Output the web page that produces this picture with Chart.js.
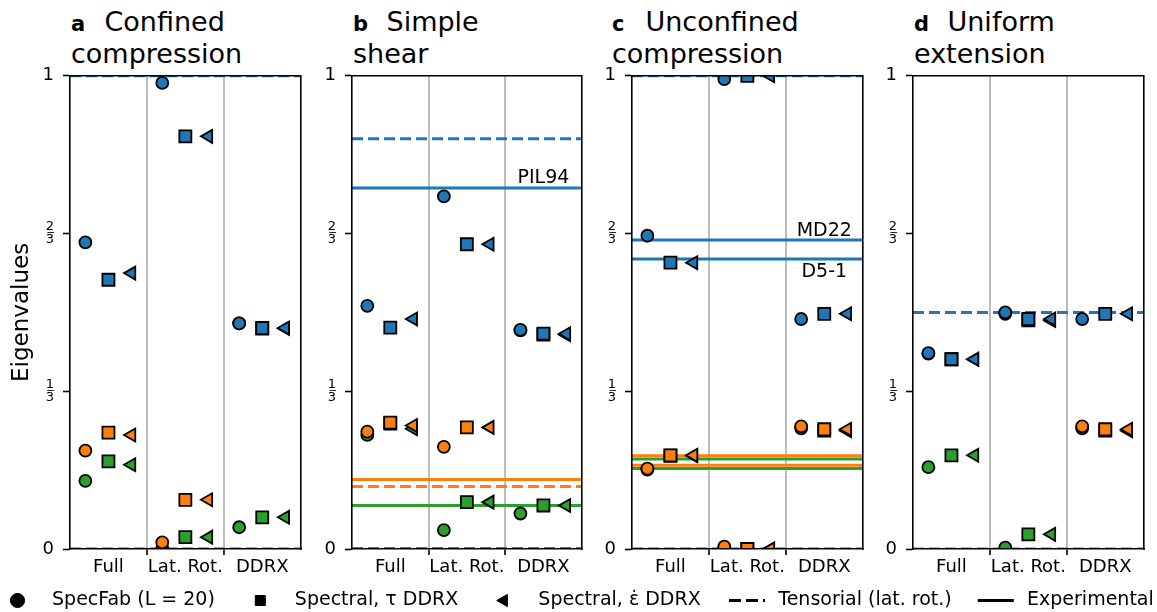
<!DOCTYPE html>
<html>
<head>
<meta charset="utf-8">
<script src="https://cdn.jsdelivr.net/npm/chart.js@4.4.0/dist/chart.umd.min.js"></script>
<style>
  body { margin: 0; width: 1157px; height: 612px; overflow: hidden; background: #fff; position: relative; font-family: 'DejaVu Sans'; }
  canvas { position: absolute; }
  .title { position: absolute; top: 7px; font-size: 27px; line-height: 30px; color: #000; white-space: nowrap; }
  .title b { display: inline-block; width: 33.5px; font-size: 21px; }
</style>
</head>
<body>
<div class="title" style="left:71px"><b>a</b>Confined<br>compression</div>
<div class="title" style="left:353px"><b>b</b>Simple<br>shear</div>
<div class="title" style="left:612px"><b>c</b>Unconfined<br>compression</div>
<div class="title" style="left:914px"><b>d</b>Uniform<br>extension</div>

<canvas id="pa" width="311" height="525" style="left:0px;top:56px"></canvas>
<canvas id="pb" width="280" height="525" style="left:312px;top:56px"></canvas>
<canvas id="pc" width="281" height="525" style="left:592px;top:56px"></canvas>
<canvas id="pd" width="281" height="525" style="left:873px;top:56px"></canvas>
<canvas id="leg1" width="900" height="200" style="left:-28px;top:555px"></canvas>
<canvas id="leg2" width="600" height="200" style="left:703px;top:565px"></canvas>

<script>
// categories on the x axis
const categories = ['Full', 'Lat. Rot.', 'DDRX'];
const yTicks = [0, 1 / 3, 2 / 3, 1];
const yTickLabels = ['0', ['1\u0332', '3'], ['2\u0332', '3'], '1'];

// eigenvalues per category, each as [largest, middle, smallest]
const confinedSpecFab = [[0.648, 0.208, 0.144], [0.985, 0.014, 0.001], [0.477, 0.477, 0.046]];
const confinedTauDDRX = [[0.569, 0.246, 0.185], [0.872, 0.104, 0.025], [0.467, 0.466, 0.067]];
const confinedEpsDDRX = [[0.583, 0.241, 0.178], [0.872, 0.104, 0.025], [0.467, 0.466, 0.067]];

const shearSpecFab = [[0.514, 0.248, 0.241], [0.745, 0.216, 0.040], [0.463, 0.462, 0.075]];
const shearTauDDRX = [[0.468, 0.267, 0.265], [0.644, 0.257, 0.099], [0.455, 0.453, 0.092]];
const shearEpsDDRX = [[0.486, 0.261, 0.254], [0.644, 0.257, 0.099], [0.455, 0.453, 0.092]];

const uncompSpecFab = [[0.662, 0.170, 0.168], [0.993, 0.005, 0.002], [0.486, 0.259, 0.255]];
const uncompTauDDRX = [[0.605, 0.198, 0.197], [1.000, 0.000, 0.000], [0.497, 0.253, 0.250]];
const uncompEpsDDRX = [[0.605, 0.198, 0.197], [1.000, 0.000, 0.000], [0.497, 0.253, 0.250]];

const extSpecFab = [[0.414, 0.413, 0.173], [0.500, 0.497, 0.003], [0.486, 0.259, 0.255]];
const extTauDDRX = [[0.401, 0.401, 0.198], [0.486, 0.483, 0.031], [0.497, 0.253, 0.250]];
const extEpsDDRX = [[0.401, 0.401, 0.198], [0.486, 0.483, 0.031], [0.497, 0.253, 0.250]];

// horizontal reference lines [largest, middle, smallest]
const confinedTensorial = [1, 0, 0];
const shearTensorial = [0.867, 0.132, 0.001];
const shearPIL94 = [0.763, 0.147, 0.092];
const uncompTensorial = [1, 0, 0];
const uncompMD22 = [0.653, 0.177, 0.170];
const uncompD51 = [0.613, 0.197, 0.190];
const extTensorial = [0.5, 0.5, 0];

const legendPointLabels = ['SpecFab (L = 20)', 'Spectral, \u03c4 DDRX', 'Spectral, \u03b5\u0307 DDRX'];
const legendLineLabels = ['Tensorial (lat. rot.)', 'Experimental'];

Chart.defaults.font.family = "'DejaVu Sans'";
Chart.defaults.color = '#000';
Chart.defaults.animation = false;

const colors = ['#1f77b4', '#ff7f0e', '#2ca02c'];
const markers = [
  { style: 'circle', radius: 6, rot: 0, dx: -0.3 },
  { style: 'rect', radius: 8.5, rot: 0, dx: 0 },
  { style: 'triangle', radius: 7.5, rot: -90, dx: 0.3 }
];

// text next to experimental lines, centred over the DDRX column
const lineLabels = {
  id: 'lineLabels',
  afterDatasetsDraw(chart, args, opts) {
    const items = opts.items || [];
    const { ctx, scales } = chart;
    ctx.save();
    ctx.font = "19px 'DejaVu Sans'";
    ctx.fillStyle = '#000';
    ctx.textAlign = 'center';
    ctx.textBaseline = 'alphabetic';
    items.forEach(it => {
      const y = scales.y.getPixelForValue(it.value);
      const x = scales.x.getPixelForValue(2);
      ctx.fillText(it.text, x, it.above ? y - 4.5 : y + 18.5);
    });
    ctx.restore();
  }
};

const inner = c => c.index === 1 || c.index === 2;

function makePanel(id, yWidth, modelData, lines, labels, yTitle) {
  const datasets = [];
  modelData.forEach((arr, m) => {
    colors.forEach((col, c) => {
      datasets.push({
        data: categories.map((_, i) => ({ x: i + markers[m].dx, y: arr[i][c] })),
        pointStyle: markers[m].style,
        pointRadius: markers[m].radius,
        pointRotation: markers[m].rot,
        pointBackgroundColor: col,
        pointBorderColor: '#000',
        pointBorderWidth: 1.8,
        order: c,
        clip: 0
      });
    });
  });
  lines.forEach(ls => {
    ls.values.forEach((v, c) => {
      datasets.push({
        data: [{ x: -0.5, y: v }, { x: 2.5, y: v }],
        showLine: true,
        pointRadius: 0,
        borderColor: colors[c],
        borderWidth: 3,
        borderDash: ls.dashed ? [11, 5] : [],
        order: 10 + c,
        clip: 0
      });
    });
  });

  new Chart(document.getElementById(id), {
    type: 'scatter',
    data: { datasets },
    options: {
      responsive: false,
      events: [],
      layout: { padding: { top: 0, right: 6, bottom: 0, left: 0 } },
      plugins: {
        legend: { display: false },
        tooltip: { enabled: false },
        lineLabels: { items: labels }
      },
      scales: {
        x: {
          type: 'linear', min: -0.5, max: 2.5,
          afterBuildTicks: s => { s.ticks = categories.map((_, i) => ({ value: i })); },
          afterFit: s => { s.height = 32; },
          ticks: { callback: (v, i) => categories[i], autoSkip: false, maxRotation: 0, font: { size: 18 }, padding: 2 },
          grid: {
            offset: true,
            color: c => inner(c) ? '#bdbdbd' : 'rgba(0,0,0,0)',
            lineWidth: 2,
            tickLength: 6,
            tickColor: c => inner(c) ? '#000' : 'rgba(0,0,0,0)',
            tickWidth: 1.6
          },
          border: { color: '#000', width: 1.6, z: 1 }
        },
        y: {
          type: 'linear', min: 0, max: 1,
          afterBuildTicks: s => { s.ticks = yTicks.map(v => ({ value: v })); },
          afterFit: s => { s.width = yWidth; },
          ticks: {
            callback: (v, i) => yTickLabels[i],
            font: c => (c.index === 0 || c.index === 3) ? { size: 18 } : { size: 13, lineHeight: 1.0 },
            padding: 9
          },
          grid: { drawOnChartArea: false, tickLength: 7, tickColor: '#000', tickWidth: 1.6 },
          border: { color: '#000', width: 1.6, z: 1 },
          title: { display: yTitle, text: 'Eigenvalues', font: { size: 23 }, padding: { top: 8, bottom: 0 } }
        },
        x2: {
          type: 'linear', position: 'top', display: true,
          ticks: { display: false }, grid: { display: false, drawTicks: false },
          border: { color: '#000', width: 1.6, z: 1 },
          afterFit: s => { s.height = 0; }
        },
        y2: {
          type: 'linear', position: 'right', display: true,
          ticks: { display: false }, grid: { display: false, drawTicks: false },
          border: { color: '#000', width: 1.6, z: 1 },
          afterFit: s => { s.width = 0; }
        }
      }
    },
    plugins: [lineLabels]
  });
}

makePanel('pa', 70, [confinedSpecFab, confinedTauDDRX, confinedEpsDDRX],
  [{ values: confinedTensorial, dashed: true }], [], true);
makePanel('pb', 40, [shearSpecFab, shearTauDDRX, shearEpsDDRX],
  [{ values: shearTensorial, dashed: true }, { values: shearPIL94, dashed: false }],
  [{ text: 'PIL94', value: shearPIL94[0], above: true }], false);
makePanel('pc', 40, [uncompSpecFab, uncompTauDDRX, uncompEpsDDRX],
  [{ values: uncompTensorial, dashed: true }, { values: uncompMD22, dashed: false }, { values: uncompD51, dashed: false }],
  [{ text: 'MD22', value: uncompMD22[0], above: true }, { text: 'D5-1', value: uncompD51[0], above: false }], false);
makePanel('pd', 40, [extSpecFab, extTauDDRX, extEpsDDRX],
  [{ values: extTensorial, dashed: true }], [], false);

// figure legend, split in two so the line handles can be wider than the markers
function makeLegend(id, padding, pointStyleWidth, items) {
  new Chart(document.getElementById(id), {
    type: 'scatter',
    data: { datasets: [] },
    options: {
      responsive: false,
      events: [],
      layout: { padding: 0 },
      scales: { x: { display: false }, y: { display: false } },
      plugins: {
        tooltip: { enabled: false },
        legend: {
          display: true, position: 'top', align: 'start',
          labels: {
            usePointStyle: true, boxHeight: 10, pointStyleWidth,
            padding, color: '#000', font: { size: 19 },
            generateLabels: () => items
          }
        }
      }
    }
  });
}

makeLegend('leg1', 36, undefined, legendPointLabels.map((t, i) => ({
  text: '\u2002 ' + t,
  fillStyle: '#000', strokeStyle: '#000', fontColor: '#000', lineWidth: 1,
  pointStyle: markers[i].style, rotation: markers[i].rot, hidden: false
})));
makeLegend('leg2', 26, 36, legendLineLabels.map((t, i) => ({
  text: '\u2009' + t,
  fillStyle: '#000', strokeStyle: '#000', fontColor: '#000', lineWidth: 3,
  lineDash: i === 0 ? [12, 5] : [], pointStyle: 'line', rotation: 0, hidden: false
})));
</script>
</body>
</html>
